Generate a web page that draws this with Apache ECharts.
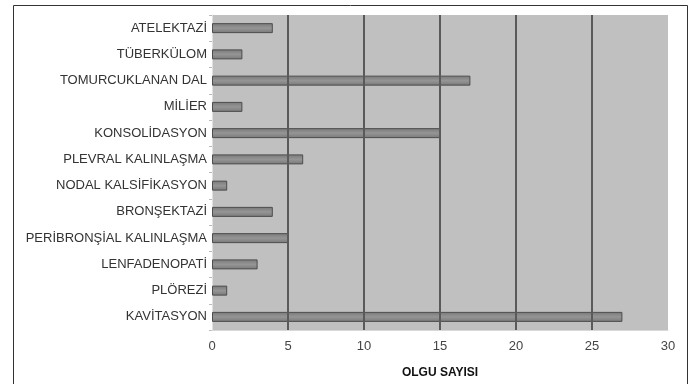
<!DOCTYPE html>
<html><head><meta charset="utf-8">
<script src="https://cdn.jsdelivr.net/npm/echarts@6/dist/echarts.min.js"></script>
<style>html,body{margin:0;padding:0;background:#fff}#c{width:693px;height:384px}</style>
</head><body><div id="c"></div>
<script>
const categories = ['ATELEKTAZİ','TÜBERKÜLOM','TOMURCUKLANAN DAL','MİLİER','KONSOLİDASYON','PLEVRAL KALINLAŞMA','NODAL KALSİFİKASYON','BRONŞEKTAZİ','PERİBRONŞİAL KALINLAŞMA','LENFADENOPATİ','PLÖREZİ','KAVİTASYON'];
const values = [4,2,17,2,15,6,1,4,5,3,1,27];
const xTitle = 'OLGU SAYISI';

const chart = echarts.init(document.getElementById('c'));
chart.setOption({
  animation:false,
  graphic:[{type:'rect',shape:{x:13.5,y:5.5,width:674,height:400},style:{fill:'none',stroke:'#333',lineWidth:1},z:-1}],
  grid:{left:212,top:15,right:25,bottom:54,show:true,backgroundColor:'#c0c0c0',borderWidth:0},
  xAxis:{type:'value',min:0,max:30,interval:5,z:3,
    axisLine:{show:true,lineStyle:{color:'#d8d8d8',width:1}},
    axisTick:{show:false},
    axisLabel:{color:'#444',fontSize:13,fontFamily:'Liberation Sans',margin:10},
    splitLine:{show:true,showMinLine:false,showMaxLine:false,lineStyle:{color:'#5a5a5a',width:2}},
    name:xTitle,nameLocation:'middle',nameGap:37,
    nameTextStyle:{color:'#111',fontSize:12,fontWeight:'bold',fontFamily:'Liberation Sans'}
  },
  yAxis:{type:'category',data:categories,inverse:true,
    axisLine:{show:true,lineStyle:{color:'#e0e0e0'}},
    axisTick:{show:true,length:3,lineStyle:{color:'#bbb'}},
    axisLabel:{color:'#333',fontSize:13,fontFamily:'Liberation Sans',margin:5}
  },
  series:[{type:'bar',data:values,barWidth:10,
    itemStyle:{borderColor:'#4d4d4d',borderWidth:1,
      color:new echarts.graphic.LinearGradient(0,0,0,1,[{offset:0,color:'#787878'},{offset:0.5,color:'#959595'},{offset:1,color:'#787878'}])}
  }]
});
</script></body></html>
